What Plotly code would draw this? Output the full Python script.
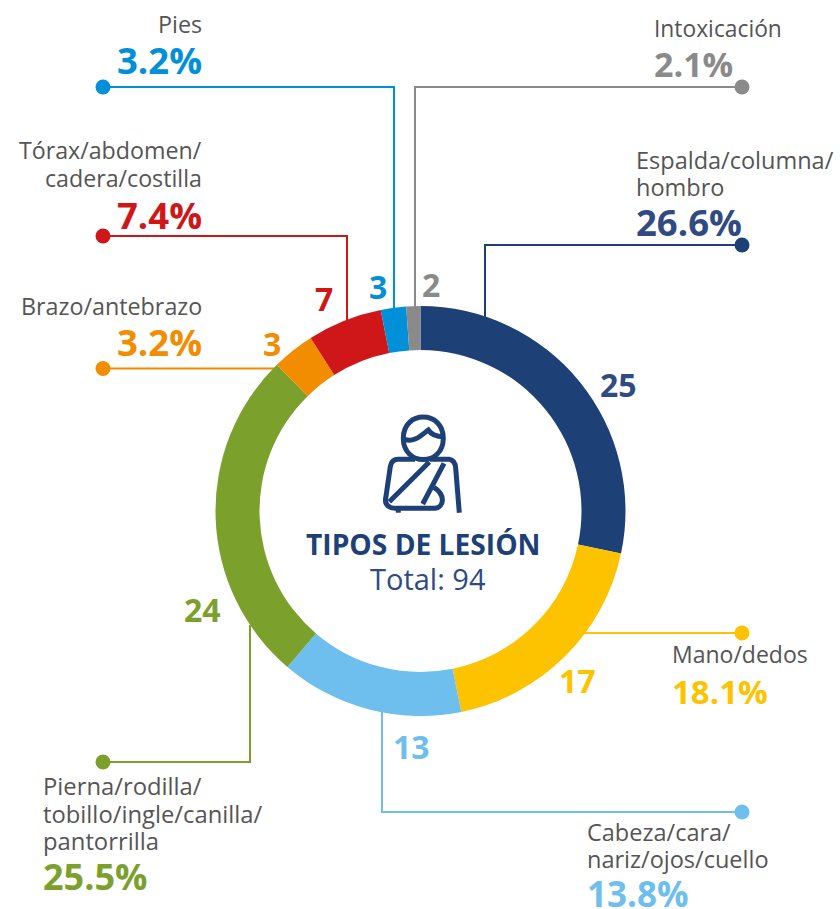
import plotly.graph_objects as go

W, H = 840, 909
FONT = "Open Sans"

categories = ["Espalda/columna/hombro", "Mano/dedos", "Cabeza/cara/nariz/ojos/cuello",
              "Pierna/rodilla/tobillo/ingle/canilla/pantorrilla", "Brazo/antebrazo",
              "Tórax/abdomen/cadera/costilla", "Pies", "Intoxicación"]
# The counts and percentages printed on the chart
values = [25, 17, 13, 24, 3, 7, 3, 2]
percents = ["26.6%", "18.1%", "13.8%", "25.5%", "3.2%", "7.4%", "3.2%", "2.1%"]
# the reference's slices are not exactly proportional to its printed counts.
drawn_arcs = [102, 66.5, 52, 95, 12.1, 21.2, 7.2, 4]
colors = ["#1D4076", "#FDC300", "#6EBEEE", "#7BA12C", "#F28C00", "#CF171A", "#0090D9", "#8A8A8A"]
text_colors = ["#2F4B82", "#FDC300", "#6EBEEE", "#7BA12C", "#F28C00", "#CF171A", "#0090D9", "#8A8A8A"]

# Layout only: label lines, anchors and leader paths per category (pixels)
label_lines = [["Espalda/columna/", "hombro"], ["Mano/dedos"], ["Cabeza/cara/", "nariz/ojos/cuello"],
               ["Pierna/rodilla/", "tobillo/ingle/canilla/", "pantorrilla"], ["Brazo/antebrazo"],
               ["Tórax/abdomen/", "cadera/costilla"], ["Pies"], ["Intoxicación"]]
label_layout = [
    (633.5, "left", [160, 187], 222), (669.5, "left", [654, ], 691), (584.5, "left", [832, 859], 893),
    (40.5, "left", [786, 814, 841], 876), (204, "right", [306], 342),
    (204, "right", [150, 178], 215), (204, "right", [24], 60), (651.5, "left", [28], 64),
]
label_sizes = [23.5, 23, 23.5, 23.8, 23.3, 23.2, 23.3, 22.8]
pct_sizes = [36.5, 33, 35, 36, 36.5, 36.5, 36.5, 34]
leaders = [
    [(742, 245), (485, 245), (485, 325)], [(742, 633), (580, 633)], [(742, 812), (382, 812), (382, 705)],
    [(103, 762), (250, 762), (250, 625)], [(103, 368.5), (280, 368.5)],
    [(103, 236), (347, 236), (347, 325)], [(103, 87), (394, 87), (394, 315)], [(742, 87), (415, 87), (415, 315)],
]
value_pos = [(618, 384), (577, 680), (411, 746), (202, 609), (272, 343), (324, 298), (378, 286), (431, 284)]

fig = go.Figure()
for pts, col in zip(leaders, colors):
    fig.add_trace(go.Scatter(x=[p[0] for p in pts], y=[p[1] for p in pts], mode="lines",
                             line=dict(color=col, width=2), hoverinfo="skip", showlegend=False))
    fig.add_trace(go.Scatter(x=[pts[0][0]], y=[pts[0][1]], mode="markers",
                             marker=dict(color=col, size=15), hoverinfo="skip", showlegend=False))

cx, cy, R = 420.5, 511, 205
fig.add_trace(go.Pie(labels=categories, values=drawn_arcs, hole=161 / 205, sort=False, direction="clockwise",
                     rotation=0, marker=dict(colors=colors, line=dict(width=0)), textinfo="none",
                     customdata=values, hovertemplate="%{label}: %{customdata}<extra></extra>",
                     showlegend=False,
                     domain=dict(x=[(cx - R) / W, (cx + R) / W], y=[1 - (cy + R) / H, 1 - (cy - R) / H])))

ann = []
def txt(x, y, s, size, color, anchor="center", bold=False):
    ann.append(dict(x=x, y=y, xref="x", yref="y", text=f"<b>{s}</b>" if bold else s, showarrow=False,
                    xanchor=anchor, yanchor="middle",
                    font=dict(family=FONT, size=size, color=color)))

for lines, (x, a, ys, py), pct, tc, ls, ps in zip(label_lines, label_layout, percents, text_colors, label_sizes, pct_sizes):
    for line, y in zip(lines, ys):
        txt(x, y, line, ls, "#555555", a)
    txt(x, py, pct, ps, tc, a, True)
for v, (x, y), tc in zip(values, value_pos, text_colors):
    txt(x, y, str(v), 32, tc, "center", True)
txt(423.5, 544, "TIPOS DE LESIÓN", 28.2, "#1D4076", "center", True)
txt(427.5, 578, "Total: 94", 29, "#2F4B82")

def Z(x, y):
    return f"{300 + x / 3:.1f},{400 + y / 3:.1f}"
icon = [
    "M" + Z(310, 115) + " C" + Z(310, 30) + " " + Z(430, 30) + " " + Z(430, 115)
    + " C" + Z(430, 200) + " " + Z(310, 200) + " " + Z(310, 115),
    "M" + Z(314, 118) + " C" + Z(340, 130) + " " + Z(365, 105) + " " + Z(385, 90)
    + " C" + Z(395, 105) + " " + Z(415, 110) + " " + Z(430, 110),
    "M" + Z(345, 178) + " L" + Z(295, 178) + " C" + Z(280, 178) + " " + Z(273, 188) + " " + Z(271, 200)
    + " L" + Z(257, 295) + " C" + Z(253, 315) + " " + Z(270, 325) + " " + Z(285, 325)
    + " L" + Z(405, 325) + " C" + Z(432, 322) + " " + Z(438, 285) + " " + Z(402, 262),
    "M" + Z(390, 178) + " L" + Z(448, 178) + " C" + Z(462, 180) + " " + Z(466, 190) + " " + Z(467, 205)
    + " L" + Z(478, 338),
    "M" + Z(388, 186) + " L" + Z(268, 305),
    "M" + Z(432, 190) + " L" + Z(368, 312),
    "M" + Z(295, 325) + " L" + Z(295, 338),
]
shapes = [dict(type="path", xref="x", yref="y", path=p, line=dict(color="#1D4076", width=5), layer="above") for p in icon]

fig.update_layout(
    width=W, height=H, margin=dict(l=0, r=0, t=0, b=0), paper_bgcolor="white", plot_bgcolor="white",
    xaxis=dict(range=[0, W], visible=False, fixedrange=True),
    yaxis=dict(range=[H, 0], visible=False, fixedrange=True),
    annotations=ann, shapes=shapes, showlegend=False,
)
fig.write_html("out.html", config=dict(displayModeBar=False),
               post_script="document.body.style.margin='0';document.body.style.overflow='hidden';")
